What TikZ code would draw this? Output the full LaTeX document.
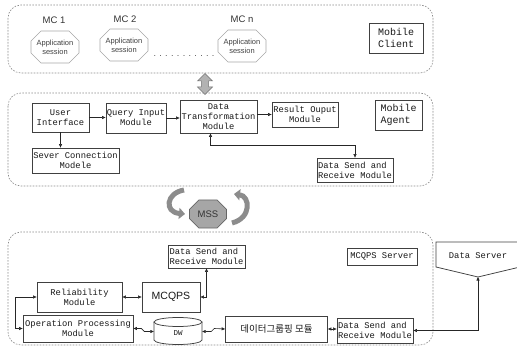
\documentclass[tikz,border=0pt]{standalone}
\usepackage{fontspec}
\setmainfont{Liberation Sans}
\newfontfamily\monofont{Liberation Mono}
\newfontfamily\krfont{Noto Sans CJK KR}
\usetikzlibrary{shapes.misc,shapes.arrows,arrows.meta,calc}

\begin{document}
\begin{tikzpicture}[x=1pt,y=-1pt,
  region/.style={draw=black!45, dash pattern=on 1.6pt off 1.4pt, line width=0.6pt, rounded corners=13pt},
  box/.style={draw=black!75, line width=0.75pt, fill=white, text=black!90,
    font=\monofont\fontsize{8.8}{10}\selectfont, inner sep=1pt, align=center},
  lbox/.style={box, align=left},
  tag/.style={box, font=\monofont\fontsize{10}{11.5}\selectfont, align=left},
  session/.style={chamfered rectangle, chamfered rectangle xsep=4pt, chamfered rectangle ysep=6pt,
    draw=black!35, line width=0.6pt, minimum width=48pt, minimum height=32pt, inner sep=0pt,
    align=center, font=\fontsize{7.5}{9}\selectfont, text=black!75},
  mclabel/.style={font=\fontsize{9.5}{11}\selectfont, text=black!80},
  tip/.style={-{Triangle[length=3.5pt,width=3pt]}},
  conn/.style={line width=0.6pt, black!85, tip},
  both/.style={line width=0.6pt, black!85, {Triangle[length=3.5pt,width=3pt]}-{Triangle[length=3.5pt,width=3pt]}},
  grayarrow/.style={line width=5pt, draw=black!45, -{Triangle[length=6pt,width=11pt]}},
]
\useasboundingbox (0,0) rectangle (517,350);

% ---------- regions ----------
\draw[region] (8,5) rectangle (433,73);
\draw[region] (8,93) rectangle (433,186);
\draw[region] (8,232) rectangle (433,345);

% ---------- mobile clients ----------
\node[mclabel] (mc1) at (54,20) {MC 1};
\node[mclabel] (mc2) at (125,19) {MC 2};
\node[mclabel] (mcn) at (242,19) {MC n};
\node[session] (s1) at (55,47) {Application\\session};
\node[session] (s2) at (124,45) {Application\\session};
\node[session] (sn) at (242,46) {Application\\session};
\node[font=\fontsize{9}{10}\selectfont, text=black!70] (dots) at (184,56) {. . . . . . . . . . .};
\node[tag, minimum width=54pt, minimum height=30pt] (mclient) at (396,38) {Mobile\\Client};

% link between the client and agent layers
\node[double arrow, rotate=90, draw=black!55, fill=black!30, line width=0.5pt,
      minimum height=21pt, minimum width=15pt, inner sep=2pt,
      double arrow head extend=2.5pt] (link) at (205,84) {};

% ---------- mobile agent ----------
\node[box, minimum width=57pt, minimum height=29pt] (ui) at (60.5,117.5) {User\\Interface};
\node[box, minimum width=60pt, minimum height=30pt] (qim) at (136,118) {Query Input\\Module};
\node[box, minimum width=77pt, minimum height=33pt] (dtm) at (218.5,116.5) {Data\\Transformation\\Module};
\node[box, minimum width=66pt, minimum height=25pt] (rom) at (305,114.5) {Result Ouput\\Module};
\node[tag, minimum width=47pt, minimum height=30pt] (magent) at (398.5,115) {Mobile\\Agent};
\node[box, minimum width=87pt, minimum height=25pt] (scm) at (75.5,160.5) {Sever Connection\\Modele};
\node[lbox, minimum width=76pt, minimum height=24pt] (dsr1) at (355,170) {Data Send and\\Receive Module};

\draw[conn] (ui.east) -- (qim.west |- ui.east);
\draw[conn] (qim.east) -- (dtm.west |- qim.east);
\draw[conn] (dtm.east |- rom.west) -- (rom.west);
\draw[conn] (ui.south) -- (ui.south |- scm.north);
\draw[both] ([xshift=-8pt]dtm.south) -- ++(0,12) -| (dsr1.north);

% ---------- MSS ----------
\node[chamfered rectangle, chamfered rectangle xsep=5pt, chamfered rectangle ysep=6pt,
      draw=black!60, fill=black!35, line width=0.6pt, minimum width=37pt, minimum height=28pt,
      inner sep=0pt, font=\fontsize{9.5}{11}\selectfont, text=black!80] (mss) at (208,214) {MSS};
\draw[grayarrow] (184,190) .. controls (166,193) and (164,212) .. (185,214);
\draw[grayarrow] (232,223) .. controls (252,218) and (250,196) .. (234,194);

% ---------- MCQPS server ----------
\node[lbox, minimum width=77pt, minimum height=23pt] (dsr2) at (206.5,256.5) {Data Send and\\Receive Module};
\node[box, minimum width=85pt, minimum height=30pt] (rel) at (79.5,297) {Reliability\\Module};
\node[box, minimum width=58pt, minimum height=30pt, font=\fontsize{10.5}{12}\selectfont] (mcqps) at (171,297) {MCQPS};
\node[box, minimum width=110pt, minimum height=27pt] (opm) at (78,328.5) {Operation Processing\\Module};
\node[minimum width=48pt, minimum height=22pt, inner sep=0pt, font=\monofont\fontsize{7.5}{9}\selectfont, text=black!90] (dw) at (178,333) {DW};
\node[box, minimum width=102pt, minimum height=26pt, font=\krfont\fontsize{9.5}{11}\selectfont] (kor) at (276.5,329) {데이터그룹핑 모듈};
\node[lbox, minimum width=76pt, minimum height=25pt] (dsr3) at (375,330.5) {Data Send and\\Receive Module};
\node[box, minimum width=70pt, minimum height=17pt] (server) at (382,256.5) {MCQPS Server};

% the data warehouse cylinder
\draw[black!75, line width=0.75pt]
  (154,322) -- (154,340) arc[start angle=180, end angle=360, x radius=24pt, y radius=4.5pt] -- (202,322);
\draw[black!75, line width=0.75pt] (178,322) ellipse[x radius=24pt, y radius=4.5pt];

% ---------- data server ----------
\node[font=\monofont\fontsize{8.8}{10}\selectfont, text=black!90] (dsrv) at (478,256) {Data Server};
\coordinate (dsrvtip) at (478,277);
\draw[black!75, line width=0.75pt] (520,242) -- (436,242) -- (436,267) -- (dsrvtip) -- (520,267);

% ---------- server connectors ----------
\draw[both] (rel) -- (mcqps);
\draw[both] (mcqps.east) -| (dsr2.south);
\draw[both] (rel.west) -- ++(-21,0) |- (opm.west);
\draw[both] (opm.east) -- ++(8,0) -- ++(3,3) -- ($(dw.west)+(0,-1.5)$);
\draw[both] ($(dw.east)+(0,-1.5)$) -- ++(9,0) -- ++(3,-3) -- (kor.west);
\draw[both] (kor.east) -- (dsr3.west |- kor.east);
\draw[both] (dsrvtip) |- (dsr3.east);
\end{tikzpicture}
\end{document}
